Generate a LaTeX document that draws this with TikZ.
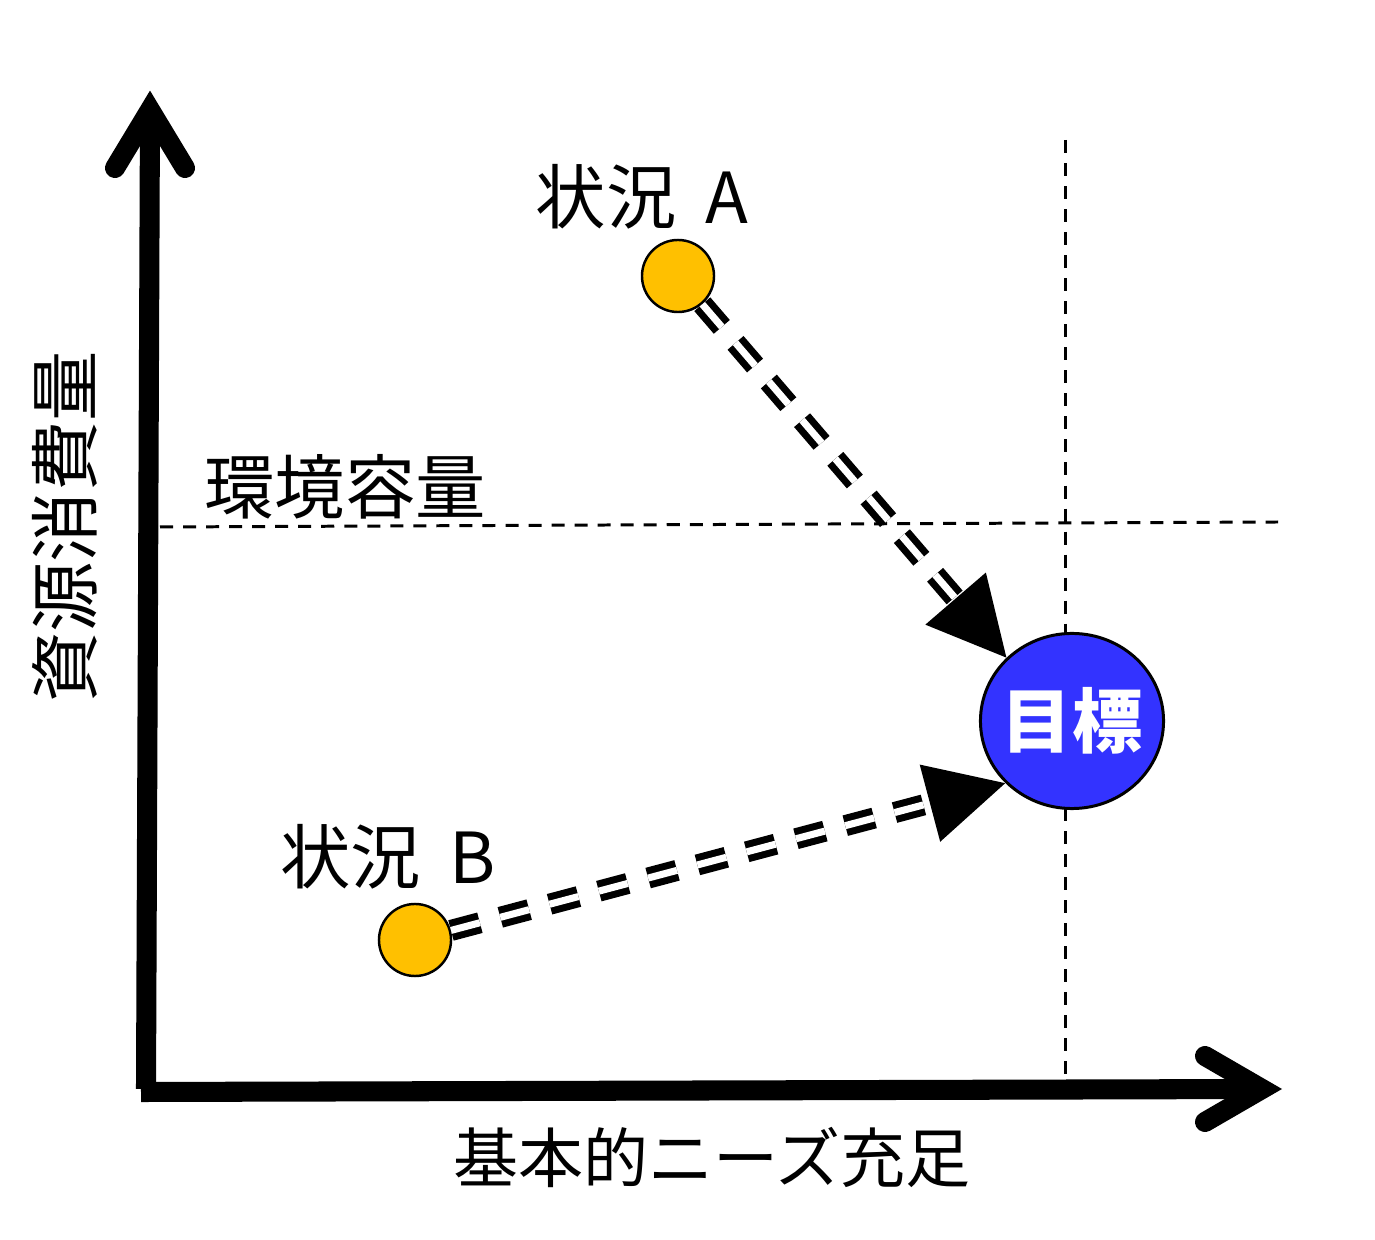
\documentclass[tikz,border=0pt]{standalone}
\usepackage{fontspec}
\setmainfont{Noto Sans CJK JP}
\usetikzlibrary{arrows.meta,shapes.geometric,calc}
\definecolor{stateorange}{HTML}{FFC000}
\definecolor{goalblue}{HTML}{3333FF}
\tikzset{
  axis/.style={line width=5.7pt, line cap=butt},
  barb/.style={line width=5.7pt, line cap=round, line join=miter},
  guide/.style={line width=0.85pt, dash pattern=on 3.7pt off 2.85pt},
  state/.style={circle, draw, fill=stateorange, line width=0.7pt, minimum size=0.72cm, inner sep=0pt},
  goal/.style={ellipse, draw, fill=goalblue, line width=0.85pt, minimum width=1.83cm, minimum height=1.75cm, inner xsep=-0.06cm, inner ysep=0pt, text=white, font=\bfseries\fontsize{20}{24}\selectfont},
  lbl/.style={font=\fontsize{20}{24}\selectfont, inner sep=0pt},
  pair/.style={line width=2pt, double, double distance=2pt, dash pattern=on 8.5pt off 6pt, -{Triangle[length=0.78cm, width=0.78cm]}}
}
\begin{document}
\begin{tikzpicture}[x=0.01cm, y=-0.01cm]
  \useasboundingbox (0,0) rectangle (1375,1240);
  % axes
  \coordinate (o) at (146,1089);
  \coordinate (ytop) at (150,110);
  \coordinate (xo) at (141,1092);
  \coordinate (xend) at (1262,1089);
  \draw[axis] (o) -- (ytop);
  \draw[axis] (xo) -- (xend);
  \draw[barb] ($(ytop)+(-35,58)$) -- (ytop) -- ++(35,58);
  \draw[barb] ($(xend)+(-57,-33)$) -- (xend) -- ++(-57,33);
  % capacity and need lines
  \coordinate (capl) at (160,527);
  \coordinate (capr) at (1278,522);
  \coordinate (needt) at (1065,140);
  \coordinate (needb) at (1065,1078);
  \draw[guide] (capl) -- (capr);
  \draw[guide] (needt) -- (needb);
  % labels
  \node[lbl, rotate=90] (ylab) at (65,527) {資源消費量};
  \node[lbl, font=\fontsize{18.5}{22}\selectfont] (xlab) at (712,1157) {基本的ニーズ充足};
  \node[lbl] (cap) at (345,487) {環境容量};
  \node[lbl] (la) at (642,197) {状況\hspace{0.29cm}A};
  \node[lbl] (lb) at (388,857) {状況\hspace{0.29cm}B};
  % situations and goal
  \node[state] (a) at (678,276) {};
  \node[state] (b) at (415,940) {};
  \node[goal] (goal) at (1072,721) {目標};
  \draw[pair] (a) -- (goal.136);
  \draw[pair] (b) -- (goal.223);
\end{tikzpicture}
\end{document}
